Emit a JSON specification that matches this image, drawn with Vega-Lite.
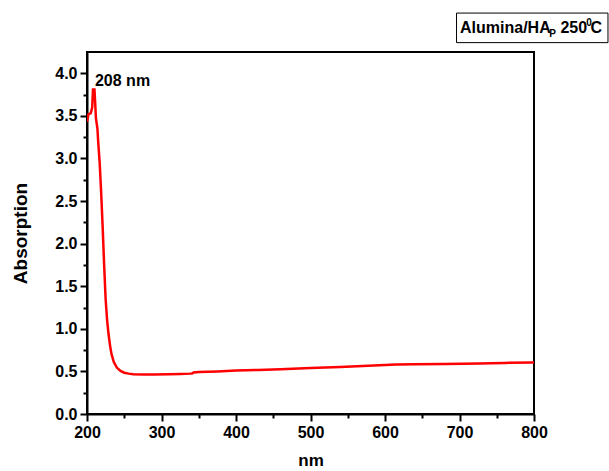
{
  "$schema": "https://vega.github.io/schema/vega-lite/v6.json",
  "width": 447,
  "height": 362,
  "autosize": "none",
  "padding": {"left": 87, "top": 52, "right": 75, "bottom": 57},
  "background": "white",
  "config": {
    "view": {"stroke": "black", "strokeWidth": 2},
    "axis": {
      "domainColor": "black", "domainWidth": 2,
      "tickColor": "black", "tickWidth": 2,
      "labelColor": "black", "labelFont": "Liberation Sans", "labelFontWeight": "bold", "labelFontSize": 16,
      "labelFlush": false, "labelOverlap": false,
      "titleColor": "black", "titleFont": "Liberation Sans", "titleFontWeight": "bold", "titleFontSize": 17,
      "grid": false
    },
    "text": {"font": "Liberation Sans", "fontWeight": "bold", "color": "black"}
  },
  "datasets": {
    "curve": [
      {"nm": 200, "abs": 3.43}, {"nm": 202, "abs": 3.52}, {"nm": 205, "abs": 3.53}, {"nm": 207, "abs": 3.6},
      {"nm": 208, "abs": 3.81}, {"nm": 210, "abs": 3.81}, {"nm": 211, "abs": 3.65}, {"nm": 212, "abs": 3.47},
      {"nm": 214, "abs": 3.35}, {"nm": 215, "abs": 3.2}, {"nm": 217, "abs": 2.95}, {"nm": 219, "abs": 2.6},
      {"nm": 221, "abs": 2.2}, {"nm": 223, "abs": 1.75}, {"nm": 225, "abs": 1.35}, {"nm": 227, "abs": 1.1},
      {"nm": 229, "abs": 0.93}, {"nm": 231, "abs": 0.8}, {"nm": 233, "abs": 0.7}, {"nm": 236, "abs": 0.61},
      {"nm": 240, "abs": 0.545}, {"nm": 245, "abs": 0.505}, {"nm": 250, "abs": 0.485}, {"nm": 256, "abs": 0.474},
      {"nm": 262, "abs": 0.468}, {"nm": 275, "abs": 0.465}, {"nm": 290, "abs": 0.465}, {"nm": 310, "abs": 0.468},
      {"nm": 325, "abs": 0.47}, {"nm": 338, "abs": 0.474}, {"nm": 341, "abs": 0.476}, {"nm": 343, "abs": 0.488},
      {"nm": 350, "abs": 0.492}, {"nm": 375, "abs": 0.5}, {"nm": 400, "abs": 0.51}, {"nm": 430, "abs": 0.518},
      {"nm": 460, "abs": 0.526}, {"nm": 500, "abs": 0.54}, {"nm": 540, "abs": 0.552}, {"nm": 570, "abs": 0.563},
      {"nm": 600, "abs": 0.574}, {"nm": 615, "abs": 0.58}, {"nm": 640, "abs": 0.583}, {"nm": 680, "abs": 0.588},
      {"nm": 727, "abs": 0.594}, {"nm": 760, "abs": 0.6}, {"nm": 800, "abs": 0.606}
    ],
    "peak": [{"nm": 210.7, "abs": 3.85, "label": "208 nm"}],
    "box": [{"x1": 696, "x2": 899.3, "y1": 4.36, "y2": 4.707}],
    "legendBig": [
      {"nm": 700.7, "abs": 4.477, "t": "Alumina/HA"},
      {"nm": 835.5, "abs": 4.477, "t": "250"},
      {"nm": 876.0, "abs": 4.477, "t": "C"}
    ],
    "legendSmall": [
      {"nm": 820.5, "abs": 4.428, "t": "P"},
      {"nm": 870.0, "abs": 4.557, "t": "0"}
    ]
  },
  "layer": [
    {
      "data": {"name": "curve"},
      "mark": {"type": "line", "color": "#FF0000", "strokeWidth": 2.5, "clip": true},
      "encoding": {
        "x": {"field": "nm", "type": "quantitative",
              "scale": {"domain": [200, 800], "nice": false, "zero": false},
              "axis": {"orient": "bottom", "title": "nm", "values": [200, 300, 400, 500, 600, 700, 800], "format": "d",
                       "tickSize": 7, "labelPadding": 3, "titlePadding": 12}},
        "y": {"field": "abs", "type": "quantitative",
              "scale": {"domain": [0, 4.25], "nice": false, "zero": false},
              "axis": {"orient": "left", "title": "Absorption", "values": [0, 0.5, 1, 1.5, 2, 2.5, 3, 3.5, 4], "format": ".1f",
                       "tickSize": 7, "labelPadding": 3, "titlePadding": 24, "titleFontSize": 19}}
      }
    },
    {
      "data": {"name": "curve"},
      "mark": {"type": "line", "strokeOpacity": 0},
      "encoding": {
        "x": {"field": "nm", "type": "quantitative",
              "axis": {"orient": "bottom", "title": null, "values": [250, 350, 450, 550, 650, 750], "labels": false, "domain": false, "tickSize": 4}},
        "y": {"field": "abs", "type": "quantitative",
              "axis": {"orient": "left", "title": null, "values": [0.25, 0.75, 1.25, 1.75, 2.25, 2.75, 3.25, 3.75], "labels": false, "domain": false, "tickSize": 4}}
      }
    },
    {
      "data": {"name": "peak"},
      "mark": {"type": "text", "align": "left", "baseline": "alphabetic", "fontSize": 16, "clip": false},
      "encoding": {
        "x": {"field": "nm", "type": "quantitative", "axis": null},
        "y": {"field": "abs", "type": "quantitative", "axis": null},
        "text": {"field": "label"}
      }
    },
    {
      "data": {"name": "box"},
      "mark": {"type": "rect", "fill": "white", "stroke": "black", "strokeWidth": 1, "clip": false},
      "encoding": {
        "x": {"field": "x1", "type": "quantitative", "axis": null},
        "x2": {"field": "x2"},
        "y": {"field": "y1", "type": "quantitative", "axis": null},
        "y2": {"field": "y2"}
      }
    },
    {
      "data": {"name": "legendBig"},
      "mark": {"type": "text", "align": "left", "baseline": "alphabetic", "fontSize": 16, "clip": false},
      "encoding": {
        "x": {"field": "nm", "type": "quantitative", "axis": null},
        "y": {"field": "abs", "type": "quantitative", "axis": null},
        "text": {"field": "t"}
      }
    },
    {
      "data": {"name": "legendSmall"},
      "mark": {"type": "text", "align": "left", "baseline": "alphabetic", "fontSize": 10, "clip": false},
      "encoding": {
        "x": {"field": "nm", "type": "quantitative", "axis": null},
        "y": {"field": "abs", "type": "quantitative", "axis": null},
        "text": {"field": "t"}
      }
    }
  ],
  "resolve": {"axis": {"x": "independent", "y": "independent"}}
}
